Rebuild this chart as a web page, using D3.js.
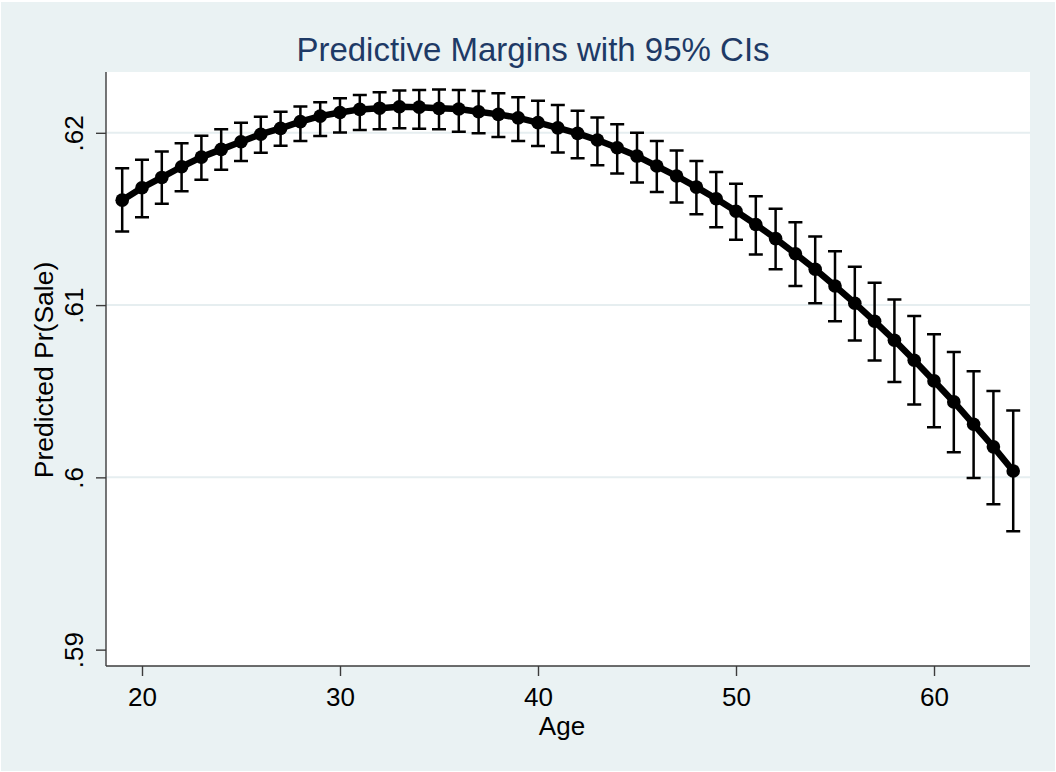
<!DOCTYPE html>
<html>
<head>
<meta charset="utf-8">
<script src="https://cdn.jsdelivr.net/npm/d3@7"></script>
<style>
  html, body { margin: 0; padding: 0; background: #ffffff; }
  svg { display: block; font-family: "Liberation Sans", Arial, sans-serif; }
</style>
</head>
<body>
<svg id="chart" width="1056" height="772"></svg>
<script>
// ---- data ----
const ages = [19,20,21,22,23,24,25,26,27,28,29,30,31,32,33,34,35,36,37,38,39,40,41,42,43,44,45,46,47,48,49,50,51,52,53,54,55,56,57,58,59,60,61,62,63,64];
const margin = [0.61609,0.61681,0.61741,0.61803,0.61859,0.61904,0.61948,0.61992,0.62026,0.62065,0.62097,0.62118,0.62136,0.62143,0.62151,0.62149,0.62142,0.62138,0.62122,0.62107,0.62087,0.62059,0.62029,0.61997,0.61958,0.61913,0.61865,0.61807,0.61749,0.61685,0.61617,0.61545,0.61468,0.61386,0.61298,0.61208,0.61111,0.61011,0.60906,0.60796,0.60680,0.60560,0.60438,0.60308,0.60177,0.60037];
const ciUpper = [0.61795,0.61843,0.61892,0.61940,0.61983,0.62021,0.62058,0.62093,0.62122,0.62153,0.62178,0.62200,0.62219,0.62235,0.62246,0.62248,0.62252,0.62248,0.62242,0.62229,0.62207,0.62186,0.62161,0.62128,0.62089,0.62049,0.62000,0.61952,0.61898,0.61837,0.61772,0.61704,0.61632,0.61559,0.61481,0.61398,0.61313,0.61222,0.61129,0.61033,0.60936,0.60831,0.60728,0.60616,0.60502,0.60388];
const ciLower = [0.61427,0.61510,0.61588,0.61661,0.61727,0.61785,0.61837,0.61884,0.61925,0.61952,0.61981,0.62002,0.62016,0.62021,0.62026,0.62023,0.62020,0.62006,0.61997,0.61975,0.61952,0.61923,0.61886,0.61853,0.61811,0.61764,0.61712,0.61656,0.61596,0.61528,0.61452,0.61379,0.61294,0.61208,0.61111,0.61011,0.60906,0.60794,0.60678,0.60554,0.60423,0.60291,0.60146,0.59997,0.59844,0.59687];
const xTicks = [20, 30, 40, 50, 60];
const yTicks = [0.59, 0.60, 0.61, 0.62];
const yTickLabels = [".59", ".6", ".61", ".62"];
const yGridTicks = [0.60, 0.61, 0.62];
const titleText = "Predictive Margins with 95% CIs";
const xTitle = "Age";
const yTitle = "Predicted Pr(Sale)";

// ---- layout ----
const W = 1056, H = 772;
const plot = { left: 106, right: 1030, top: 72, bottom: 666 };
const bgColor = "#eaf2f3";
const gridColor = "#e6eef0";
const axisColor = "#3c3c3c";
const titleColor = "#1e3a66";
const labelSize = 26;

const svg = d3.select("#chart");

svg.append("rect").attr("x", 0).attr("y", 0).attr("width", W).attr("height", H).attr("fill", "#ffffff");
svg.append("rect").attr("x", 1).attr("y", 2).attr("width", W - 2).attr("height", H - 3).attr("fill", bgColor);
svg.append("rect").attr("x", plot.left).attr("y", plot.top)
  .attr("width", plot.right - plot.left).attr("height", plot.bottom - plot.top).attr("fill", "#ffffff");

const x = d3.scaleLinear().domain([18.182, 64.848]).range([plot.left, plot.right]);
const y = d3.scaleLinear().domain([0.58905, 0.62353]).range([plot.bottom, plot.top]);

// gridlines
svg.append("g").selectAll("line").data(yGridTicks).join("line")
  .attr("x1", plot.left).attr("x2", plot.right)
  .attr("y1", d => y(d)).attr("y2", d => y(d))
  .attr("stroke", gridColor).attr("stroke-width", 2);

// y axis
const yAxis = d3.axisLeft(y).tickValues(yTicks).tickSize(10).tickPadding(0)
  .tickFormat((d, i) => yTickLabels[i]);
const gy = svg.append("g").attr("transform", `translate(${plot.left},0)`).call(yAxis);
gy.select(".domain").attr("stroke", axisColor).attr("stroke-width", 1.4)
  .attr("d", `M0,${plot.top}V${plot.bottom}`);
gy.selectAll(".tick line").attr("stroke", axisColor).attr("stroke-width", 1.4);
gy.selectAll(".tick text")
  .attr("x", 0).attr("y", 0)
  .attr("transform", "translate(-23,0) rotate(-90)")
  .attr("text-anchor", "middle").attr("dy", 0)
  .attr("fill", "#000").attr("font-size", labelSize).attr("font-family", "Liberation Sans, Arial, sans-serif");

// x axis
const xAxis = d3.axisBottom(x).tickValues(xTicks).tickSize(10).tickPadding(0).tickFormat(d3.format("d"));
const gx = svg.append("g").attr("transform", `translate(0,${plot.bottom})`).call(xAxis);
gx.select(".domain").attr("stroke", axisColor).attr("stroke-width", 1.4)
  .attr("d", `M${plot.left},0H${plot.right}`);
gx.selectAll(".tick line").attr("stroke", axisColor).attr("stroke-width", 1.4);
gx.selectAll(".tick text")
  .attr("y", 40).attr("dy", 0)
  .attr("fill", "#000").attr("font-size", labelSize).attr("font-family", "Liberation Sans, Arial, sans-serif");

// error bars
const capHalf = 7;
const rows = ages.map((a, i) => ({ age: a, m: margin[i], lo: ciLower[i], hi: ciUpper[i] }));
const eb = svg.append("g").attr("stroke", "#000").attr("stroke-width", 2.5).attr("fill", "none");
eb.selectAll("path").data(rows).join("path")
  .attr("d", d => {
    const cx = x(d.age), yl = y(d.lo), yh = y(d.hi);
    return `M${cx},${yh}V${yl}M${cx - capHalf},${yh}H${cx + capHalf}M${cx - capHalf},${yl}H${cx + capHalf}`;
  });

// line
const line = d3.line().x(d => x(d.age)).y(d => y(d.m));
svg.append("path").datum(rows).attr("d", line)
  .attr("fill", "none").attr("stroke", "#000").attr("stroke-width", 6.5).attr("stroke-linejoin", "round");

// markers
svg.append("g").selectAll("circle").data(rows).join("circle")
  .attr("cx", d => x(d.age)).attr("cy", d => y(d.m)).attr("r", 6.8).attr("fill", "#000");

// titles
svg.append("text").attr("x", 533).attr("y", 61).attr("text-anchor", "middle")
  .attr("font-size", 33).attr("fill", titleColor).text(titleText);
svg.append("text").attr("x", 562).attr("y", 735).attr("text-anchor", "middle")
  .attr("font-size", labelSize).attr("fill", "#000").text(xTitle);
svg.append("text").attr("transform", `translate(53,370) rotate(-90)`)
  .attr("text-anchor", "middle").attr("font-size", 26.5).attr("fill", "#000").text(yTitle);
</script>
</body>
</html>
